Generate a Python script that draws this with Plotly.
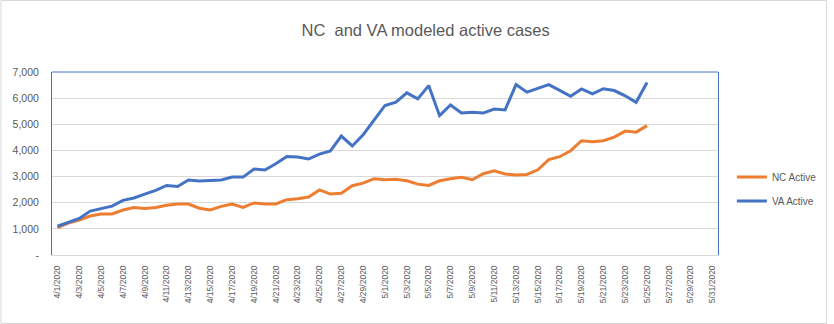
import pandas as pd
import plotly.graph_objects as go

dates = [f"{d.month}/{d.day}/{d.year}" for d in pd.date_range("2020-04-01", "2020-05-31")]
tick_labels = dates[::2]

nc_active = [1050, 1220, 1340, 1490, 1570, 1570, 1720, 1820, 1780, 1820,
             1900, 1950, 1950, 1790, 1720, 1860, 1950, 1820, 1990, 1950,
             1950, 2115, 2150, 2220, 2490, 2330, 2360, 2650, 2750, 2920,
             2880, 2900, 2840, 2710, 2660, 2840, 2920, 2970, 2880, 3110,
             3220, 3100, 3060, 3080, 3260, 3650, 3760, 3990, 4370, 4330,
             4370, 4510, 4740, 4700, 4950]
va_active = [1100, 1250, 1400, 1680, 1770, 1870, 2090, 2180, 2330, 2470,
             2660, 2620, 2870, 2830, 2850, 2870, 2980, 2980, 3290, 3250,
             3490, 3770, 3750, 3670, 3860, 3980, 4550, 4170, 4600, 5150,
             5720, 5850, 6200, 5970, 6480, 5330, 5740, 5430, 5460, 5430,
             5580, 5550, 6520, 6230, 6360, 6520, 6300, 6070, 6350, 6160,
             6360, 6290, 6090, 5840, 6600]
y_ticks = [0, 1000, 2000, 3000, 4000, 5000, 6000, 7000]
y_tick_text = ["-", "1,000", "2,000", "3,000", "4,000", "5,000", "6,000", "7,000"]

W, H = 834, 324
ML, MR, MT, MB = 52, 110, 72, 69
PW, PH = W - ML - MR, H - MT - MB
GRAY = "#595959"

fig = go.Figure()
fig.add_trace(go.Scatter(x=dates[:len(nc_active)], y=nc_active, mode="lines", name="NC Active",
                         line=dict(color="#ED7D31", width=3), legend="legend", showlegend=True))
fig.add_trace(go.Scatter(x=dates[:len(va_active)], y=va_active, mode="lines", name="VA Active",
                         line=dict(color="#4472C4", width=3), legend="legend2", showlegend=True))

leg_common = dict(font=dict(family="Liberation Sans", size=10, color=GRAY),
                  bgcolor="rgba(0,0,0,0)", xanchor="left", yanchor="middle",
                  itemwidth=30, visible=True)
fig.update_layout(
    width=W, height=H,
    showlegend=True,
    margin=dict(l=ML, r=MR, t=MT, b=MB),
    paper_bgcolor="white", plot_bgcolor="white",
    title=dict(text="NC  and VA modeled active cases", x=(429 - ML) / PW, xref="paper", xanchor="center",
               y=1 - 30 / H, yanchor="middle",
               font=dict(family="Liberation Sans", size=16.5, color=GRAY)),
    xaxis=dict(type="category", categoryorder="array", categoryarray=dates,
               range=[-0.5, len(dates) - 0.5], tickvals=tick_labels, ticktext=tick_labels,
               tickangle=-90, showgrid=False, showline=True, linecolor="#D9D9D9", linewidth=1,
               ticks="", ticklabelstandoff=6,
               tickfont=dict(family="Liberation Sans", size=8.5, color=GRAY)),
    yaxis=dict(range=[0, 7000], tickvals=y_ticks, ticktext=y_tick_text,
               showgrid=True, gridcolor="#D9D9D9", gridwidth=1, zeroline=False,
               showline=True, linecolor="#4472C4", linewidth=1, mirror=True,
               ticks="", ticklabelstandoff=10,
               tickfont=dict(family="Liberation Sans", size=10.5, color=GRAY)),
    legend=dict(x=(738 - ML) / PW, y=(MT + PH - 177) / PH, **leg_common),
    legend2=dict(x=(738 - ML) / PW, y=(MT + PH - 201) / PH, **leg_common),
    shapes=[
        dict(type="line", xref="paper", yref="paper", x0=0, x1=1, y0=1, y1=1,
             line=dict(color="#4472C4", width=1)),
        dict(type="rect", xref="paper", yref="paper",
             x0=(-ML + 0.5) / PW, x1=(W - ML - 0.5) / PW,
             y0=(-MB + 0.5) / PH, y1=1 + (MT - 0.5) / PH,
             line=dict(color="#D9D9D9", width=1), fillcolor="rgba(0,0,0,0)"),
    ],
)

fig.write_html("out.html")
